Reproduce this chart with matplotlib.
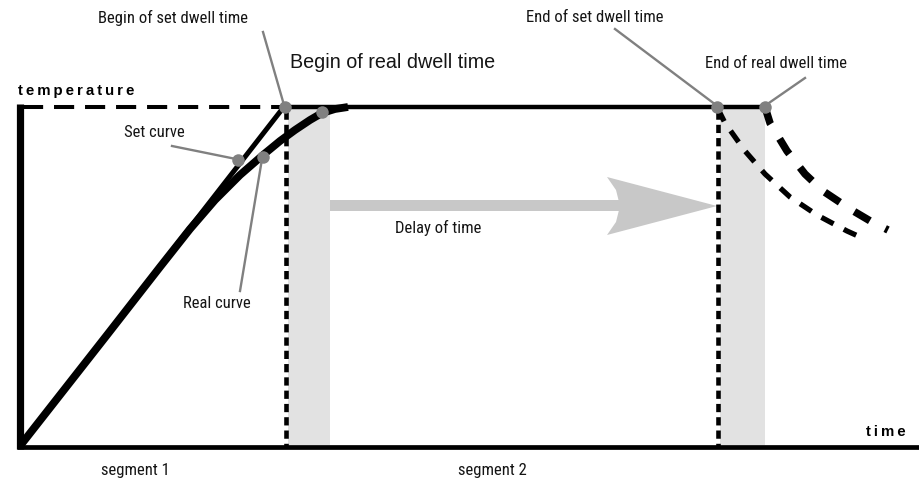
import matplotlib
matplotlib.use("Agg")
import matplotlib.pyplot as plt
from matplotlib.patches import Polygon, Rectangle

# ---- data (diagram coordinates: time to the right, temperature axis inverted) ----
set_ramp_t = [20, 283]
set_ramp_T = [447, 109]
real_ramp_t = [20, 107, 160, 190, 215, 240, 263, 280, 295, 310, 322, 335, 348]
real_ramp_T = [447, 336, 268, 230, 201, 176, 156, 142, 131, 121, 114, 110, 108]
set_fall_t = [718, 725, 745, 765, 790, 817, 847, 858]
set_fall_T = [110, 124, 152, 175, 198, 216, 232, 237]
real_fall_t = [765, 770, 787, 805, 823, 850, 872, 888]
real_fall_T = [108, 124, 152, 175, 192, 210, 223, 231]
top_level = 108
base_level = 448
t_begin_set, t_begin_real = 286, 330
t_end_set, t_end_real = 718, 765
marker_t = [285, 322, 238, 263, 717, 765]
marker_T = [108, 113, 161, 158, 108, 108]

labels = ["Begin of set dwell time", "Set curve", "Real curve",
          "End of set dwell time", "End of real dwell time"]
label_xy = [(173, 18), (154, 133), (217, 304), (595, 17), (776, 64)]
leader_from = [(263, 33), (172, 147), (240, 292), (615, 30), (805, 79)]
leader_to = [(284, 106), (236, 160), (262, 160), (716, 106), (766, 106)]
segment_labels = ["segment 1", "segment 2"]
segment_x = [135, 492]

fig = plt.figure(figsize=(9.19, 4.85), dpi=100)
ax = fig.add_axes([0, 0, 1, 1])
ax.set_xlim(0, 919)
ax.set_ylim(485, 0)
ax.axis("off")

narrow = ["Roboto Condensed", "DejaVu Sans"]
arial = ["Liberation Sans", "DejaVu Sans"]
gray = "#808080"
txt = "#151515"

# shaded dwell-delay bands
ax.add_patch(Rectangle((t_begin_set + 2, top_level + 2), t_begin_real - t_begin_set - 2,
                       base_level - top_level - 4, color="#e2e2e2", zorder=1, lw=0))
ax.add_patch(Rectangle((t_end_set + 2, top_level + 2), t_end_real - t_end_set - 2,
                       base_level - top_level - 4, color="#e2e2e2", zorder=1, lw=0))

# delay arrow
ax.add_patch(Rectangle((t_begin_real, 201), 620 - t_begin_real, 11, color="#c8c8c8", lw=0, zorder=2))
head = [(607, 178), (t_end_set - 1, 207), (607, 236), (616, 223), (620, 207), (616, 191)]
ax.add_patch(Polygon(head, closed=True, color="#c8c8c8", lw=0, zorder=2))

# axes
ax.plot([20, 20], [105, base_level + 2], color="black", lw=5.2, solid_capstyle="butt", zorder=5)
ax.plot([17, 919], [base_level, base_level], color="black", lw=3.4, solid_capstyle="butt", zorder=5)

# top level: dashed before set dwell, solid during dwell
ax.plot([23, t_begin_set - 3], [top_level, top_level], color="black", lw=2.9,
        dashes=(5.0, 2.7), zorder=4)
ax.plot([t_begin_set - 3, t_end_real], [top_level, top_level], color="black", lw=3.2,
        solid_capstyle="butt", zorder=4)

# vertical dotted lines
for tx in (t_begin_set, t_end_set):
    ax.plot([tx, tx], [top_level + 4, base_level], color="black", lw=3.3,
            dashes=(1.8, 1.1), zorder=4)

# ramps
ax.plot(set_ramp_t, set_ramp_T, color="black", lw=3.6, solid_capstyle="butt", zorder=6)
ax.plot(real_ramp_t, real_ramp_T, color="black", lw=5.6, solid_capstyle="butt",
        solid_joinstyle="round", zorder=6)

# falling curves after dwell
ax.plot(set_fall_t, set_fall_T, color="black", lw=3.8, dashes=(2.6, 2.2), zorder=6)
ax.plot(real_fall_t, real_fall_T, color="black", lw=5.4, dashes=(2.4, 2.3), zorder=6)

# leader lines and markers
for (x0, y0), (x1, y1) in zip(leader_from, leader_to):
    ax.plot([x0, x1], [y0, y1], color=gray, lw=1.7, zorder=7)
ax.plot(marker_t, marker_T, "o", color=gray, ms=9, mec="none", zorder=8)

# texts
for s, (x, y) in zip(labels, label_xy):
    ax.text(x, y, s, family=narrow, fontsize=12, ha="center", va="center", color=txt)
ax.text(290, 62, "Begin of real dwell time", family=arial,
        fontsize=14.2, ha="left", va="center", color=txt)
ax.text(438, 228, "Delay of time", family=narrow, fontsize=12, ha="center", va="center",
        color=txt)
ax.text(18, 91, "\u2009".join("temperature"), family=arial,
        fontsize=10.8, fontweight="bold", ha="left", va="center")
ax.text(906, 432, "\u2009".join("time"), family=arial,
        fontsize=10.8, fontweight="bold", ha="right", va="center")
for s, x in zip(segment_labels, segment_x):
    ax.text(x, 471, s, family=narrow, fontsize=12, ha="center", va="center", color=txt)

fig.savefig("out.png", dpi=100)
